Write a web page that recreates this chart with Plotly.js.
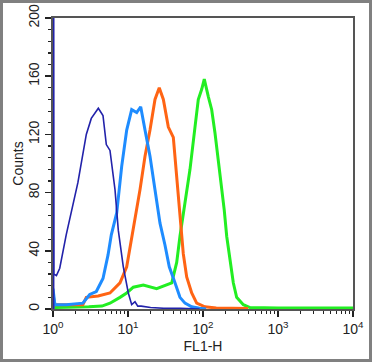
<!DOCTYPE html>
<html><head><meta charset="utf-8">
<script src="https://cdn.plot.ly/plotly-3.0.1.min.js"></script>
<style>html,body{margin:0;padding:0;background:#fff;}#wrap{position:relative;width:373px;height:363px;}
#frame{position:absolute;left:0;top:0;width:372px;height:362px;box-sizing:border-box;border:3px solid #808080;pointer-events:none;}</style>
</head><body><div id="wrap"><div id="chart" style="width:373px;height:363px;"></div><div id="frame"></div></div>
<script>
// FL1-H intensity vs counts
var navyX = [1.02, 1.02, 1.03, 1.11, 1.23, 1.5, 1.85, 2.15, 2.78, 3.24, 4.02, 4.64, 5.14, 5.75, 6.71, 7.43, 8.66, 10.1, 11.2, 12.4, 13.5, 15, 20, 30, 50, 90];
var navyY = [0, 250, 24, 23, 28, 51, 71, 87, 120, 131, 138, 133, 113, 109, 82, 54, 29, 11, 3, 5, 2, 2, 1, 0.5, 0.5, 0];

var blueX = [1, 1, 1.06, 1.5, 2.5, 3.09, 3.78, 4.64, 5.41, 5.99, 7.07, 8.24, 9.61, 11.2, 13.06, 14.77, 16.86, 19.65, 22.9, 26.7, 31.1, 35.5, 42.3, 49.3, 57.5, 70.7, 90, 110];
var blueY = [0, 14, 3, 3, 4, 10, 12, 21, 37, 51, 66, 98, 123, 137, 135, 139, 123, 105, 82, 59, 44, 29, 18, 8, 4, 1.5, 0.5, 0];

var orangeX = [1, 1, 1.06, 1.5, 2.5, 2.78, 4, 5.75, 7.82, 9.61, 11.77, 14.45, 16.86, 19.65, 22.9, 26.1, 29.6, 34.5, 40.2, 44.6, 49.3, 54.6, 60.6, 70.7, 82.4, 106, 150, 400];
var orangeY = [0, 10, 3, 3, 3, 8, 9, 11, 18, 29, 54, 82, 105, 123, 144, 152, 144, 125, 118, 91, 61, 38, 22, 11, 4, 1.5, 0.7, 0.3];

var greenX = [1, 2, 3, 4.5, 5.75, 7.82, 9.61, 11.77, 16, 24.1, 32.8, 38.3, 44.6, 49.3, 57.5, 67.1, 78.2, 86.5, 96.1, 104, 117.7, 130.6, 144.5, 160, 177.6, 192, 207, 229, 253.5, 281, 345, 423, 1000, 10000];
var greenY = [1, 1, 1.5, 2, 4, 8, 11, 15, 16.5, 14, 16.5, 18, 32, 50, 73, 96, 125, 144, 151, 158, 146, 137, 121, 102, 84, 68, 50, 32, 18, 8, 3, 1, 0.7, 0.7];

var xTickVals = [1, 10, 100, 1000, 10000];
var xTickText = ['10<sup>0</sup>', '10<sup>1</sup>', '10<sup>2</sup>', '10<sup>3</sup>', '10<sup>4</sup>'];
var yTickVals = [0, 40, 80, 120, 160, 200];

var xMinor = [];
for (var d = 0; d < 4; d++) for (var m = 2; m <= 9; m++) xMinor.push(m * Math.pow(10, d));

function tr(x, y, color, w) {
  return {x: x, y: y, type: 'scatter', mode: 'lines', line: {color: color, width: w}, hoverinfo: 'skip', showlegend: false};
}
var data = [
  tr(greenX, greenY, '#22ee22', 3),
  tr(orangeX, orangeY, '#ff6414', 3),
  tr(blueX, blueY, '#1e8cff', 3),
  tr(navyX, navyY, '#2222aa', 1.6)
];
var font = {family: 'Liberation Sans, Arial, sans-serif', size: 14, color: '#222'};
var layout = {
  width: 373, height: 363,
  margin: {l: 53, r: 20, t: 18, b: 54},
  paper_bgcolor: '#fff', plot_bgcolor: '#fff',
  font: font,
  showlegend: false,
  xaxis: {
    type: 'log', range: [0, 4], tickmode: 'array', tickvals: xTickVals, ticktext: xTickText,
    ticks: 'outside', ticklen: 6, tickwidth: 1.5, tickcolor: '#222',
    minor: {tickmode: 'array', tickvals: xMinor, ticks: 'outside', ticklen: 3, tickwidth: 1.2, tickcolor: '#222'},
    showline: true, linecolor: '#555', linewidth: 2, mirror: true,
    showgrid: false, zeroline: false, layer: 'below traces',
    title: {text: 'FL1-H', font: font, standoff: 5},
    tickfont: font
  },
  yaxis: {
    range: [0, 200], tickmode: 'array', tickvals: yTickVals, tickangle: -90,
    ticks: 'outside', ticklen: 6, tickwidth: 1.5, tickcolor: '#222',
    minor: {dtick: 8, tick0: 0, ticks: 'outside', ticklen: 3, tickwidth: 1.2, tickcolor: '#222'},
    showline: true, linecolor: '#555', linewidth: 2, mirror: true,
    showgrid: false, zeroline: false, layer: 'below traces',
    title: {text: 'Counts', font: font, standoff: 0},
    tickfont: font
  }
};
Plotly.newPlot('chart', data, layout, {staticPlot: true, displayModeBar: false});
</script>
</body></html>
